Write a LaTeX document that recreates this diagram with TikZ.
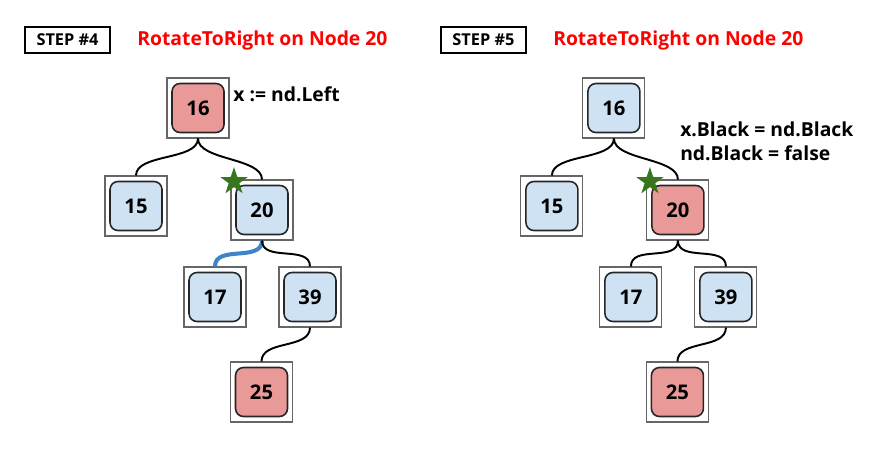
\documentclass[tikz,border=0pt]{standalone}
\usepackage{fontspec}
\setmainfont{Open Sans}
\usetikzlibrary{positioning,shapes.geometric}
\definecolor{keyblue}{HTML}{CFE2F3}
\definecolor{keyred}{HTML}{EA9999}
\definecolor{stargreen}{HTML}{38761D}
\definecolor{linkblue}{HTML}{3D85C6}
\definecolor{titlered}{HTML}{FF0000}
\tikzset{
  frame/.style={draw=black!60, line width=0.6pt, minimum width=1.24cm, minimum height=1.2cm, inner sep=0pt},
  key/.style={draw=black!85, line width=0.9pt, rounded corners=0.16cm, minimum width=1.04cm, minimum height=0.98cm, inner sep=0pt, font=\bfseries\fontsize{11.5}{14}\selectfont},
  bluekey/.style={key, fill=keyblue},
  redkey/.style={key, fill=keyred},
  link/.style={line width=1.1pt, to path={.. controls +(0,22) and +(0,-22) .. (\tikztotarget)}},
  steptag/.style={draw, line width=0.7pt, minimum width=1.7cm, minimum height=0.52cm, inner sep=0pt, font=\bfseries\fontsize{9.3}{11}\selectfont},
  title/.style={anchor=base west, inner sep=0pt, text=titlered, font=\bfseries\fontsize{11}{14}\selectfont},
  note/.style={anchor=base west, inner sep=0pt, font=\bfseries\fontsize{11}{13}\selectfont},
  mark star/.style={star, star points=5, star point ratio=2.6, fill=stargreen, minimum size=0.58cm, inner sep=0pt}
}
\begin{document}
\begin{tikzpicture}[x=0.02cm,y=-0.02cm]
\useasboundingbox (0,0) rectangle (878,464);

% step 4
\node[steptag] (Ltag) at (67.5,40) {STEP \#4};
\node[title] (Ltitle) at (137,45) {RotateToRight on Node 20};

\node[frame] (L16) at (198,108) {};
\node[redkey] (L16k) at (L16) {16};
\node[frame] (L15) at (136,206) {};
\node[bluekey] (L15k) at (L15) {15};
\node[frame] (L20) at (262,210) {};
\node[bluekey] (L20k) at (L20) {20};
\node[frame] (L17) at (215,297) {};
\node[bluekey] (L17k) at (L17) {17};
\node[frame] (L39) at (310,297) {};
\node[bluekey] (L39k) at (L39) {39};
\node[frame] (L25) at (261.5,392) {};
\node[redkey] (L25k) at (L25) {25};

\draw[link] (L16.south) to (L15.north);
\draw[link] (L16.south) to (L20.north);
\draw[link, draw=linkblue, line width=2.3pt] (L20.south) to (L17.north);
\draw[link] (L20.south) to (L39.north);
\draw[link] (L39.south) to (L25.north);

\node[mark star] (Lstar) at (234,181.5) {};
\node[note] (Lnote) at (233,101) {x := nd.Left};

% step 5
\begin{scope}[xshift=8.32cm]
\node[steptag] (Rtag) at (67.5,40) {STEP \#5};
\node[title] (Rtitle) at (137,45) {RotateToRight on Node 20};

\node[frame] (R16) at (198,108) {};
\node[bluekey] (R16k) at (R16) {16};
\node[frame] (R15) at (136,206) {};
\node[bluekey] (R15k) at (R15) {15};
\node[frame] (R20) at (262,210) {};
\node[redkey] (R20k) at (R20) {20};
\node[frame] (R17) at (215,297) {};
\node[bluekey] (R17k) at (R17) {17};
\node[frame] (R39) at (310,297) {};
\node[bluekey] (R39k) at (R39) {39};
\node[frame] (R25) at (261.5,392) {};
\node[redkey] (R25k) at (R25) {25};

\draw[link] (R16.south) to (R15.north);
\draw[link] (R16.south) to (R20.north);
\draw[link] (R20.south) to (R17.north);
\draw[link] (R20.south) to (R39.north);
\draw[link] (R39.south) to (R25.north);

\node[mark star] (Rstar) at (234,181.5) {};
\node[note] (Rnote1) at (264,136) {x.Black = nd.Black};
\node[note] (Rnote2) at (264,160) {nd.Black = false};
\end{scope}
\end{tikzpicture}
\end{document}
